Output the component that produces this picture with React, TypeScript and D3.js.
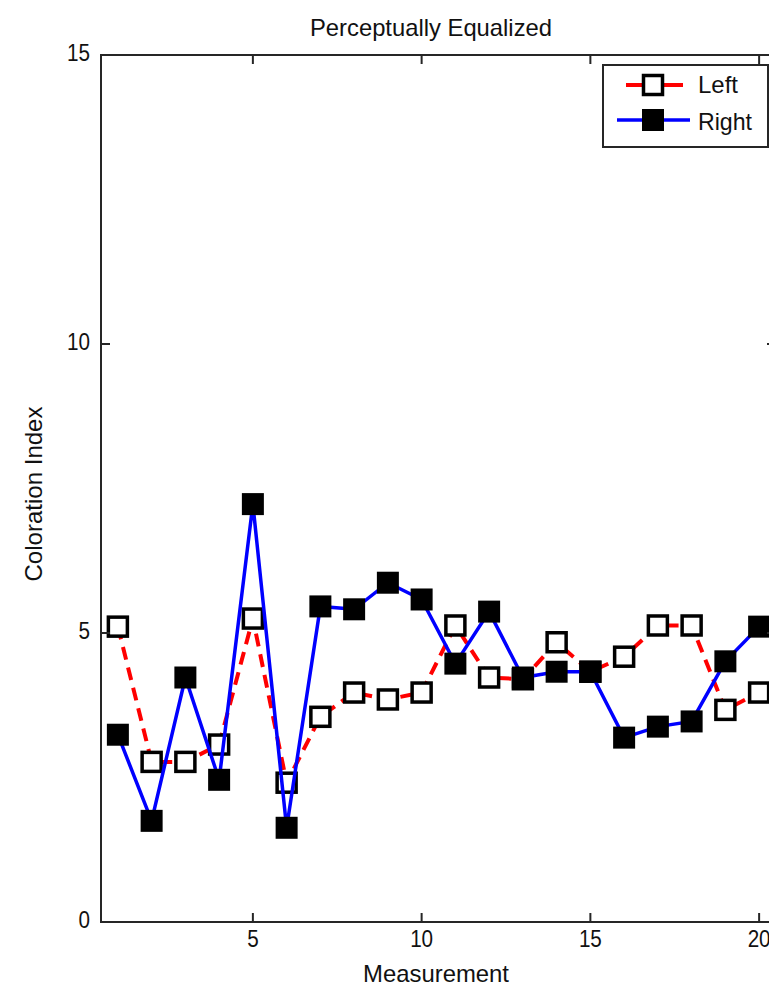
import * as d3 from 'd3';

// measurement index 1..20
const measurements = d3.range(1, 21);
const leftValues = [5.11, 2.77, 2.77, 3.07, 5.25, 2.41, 3.55, 3.97, 3.85, 3.97, 5.13, 4.23, 4.2, 4.84, 4.33, 4.59, 5.13, 5.13, 3.67, 3.97];
const rightValues = [3.24, 1.75, 4.23, 2.46, 7.23, 1.63, 5.46, 5.41, 5.87, 5.58, 4.47, 5.37, 4.23, 4.33, 4.33, 3.19, 3.38, 3.47, 4.51, 5.11];
const xTicks = [5, 10, 15, 20];
const yTicks = [0, 5, 10, 15];
const seriesNames = ['Left', 'Right'];

const W = 769;
const H = 991;
const FONT = '"Liberation Sans Narrow", "Liberation Sans", Arial, sans-serif';
const AXIS = '#262626';

// narrow bitmap-ish font: squeeze glyphs to the widths seen in the picture
function Label({ x, y, w, anchor = 'middle', transform, children }: any) {
  return (
    <text
      x={x}
      y={y}
      transform={transform}
      textAnchor={anchor}
      dominantBaseline="central"
      textLength={w}
      lengthAdjust="spacingAndGlyphs"
      style={{ fontFamily: FONT, fontSize: 24, fill: '#111' }}
    >
      {children}
    </text>
  );
}

export default function App() {
  const margin = { top: 55, right: -7, bottom: 69, left: 101 };
  const x = d3.scaleLinear().domain([0.5, 20.5]).range([margin.left, W - margin.right]);
  const y = d3.scaleLinear().domain([0, 15]).range([H - margin.bottom, margin.top]);
  const x0 = x(0.5), x1 = x(20.5), y0 = y(0), y1 = y(15);
  const tickLen = 9;
  const mk = 22;
  const digitW = 11.5;

  const line = d3
    .line<number>()
    .x((_, i) => x(measurements[i]))
    .y((d) => y(d));

  return (
    <div style={{ position: 'absolute', left: 0, top: 0 }}>
      <svg width={W} height={H} style={{ display: 'block', background: '#fff' }}>
        <rect x={0} y={0} width={W} height={H} fill="#fff" />
        <Label x={431} y={27} w={242}>Perceptually Equalized</Label>

        {/* Left: red dashed, open squares */}
        <path d={line(leftValues) || ''} fill="none" stroke="#ff0000" strokeWidth={4} strokeDasharray="13 8" />
        {leftValues.map((v, i) => (
          <rect
            key={'l' + i}
            x={x(measurements[i]) - mk / 2 + 1.5}
            y={y(v) - mk / 2 + 1.5}
            width={mk - 3}
            height={mk - 3}
            fill="#fff"
            stroke="#000"
            strokeWidth={3.5}
          />
        ))}

        {/* Right: blue solid, filled squares */}
        <path d={line(rightValues) || ''} fill="none" stroke="#0000ff" strokeWidth={3.5} />
        {rightValues.map((v, i) => (
          <rect key={'r' + i} x={x(measurements[i]) - mk / 2} y={y(v) - mk / 2} width={mk} height={mk} fill="#000" />
        ))}

        {/* box + ticks */}
        <rect x={x0} y={y1} width={x1 - x0} height={y0 - y1} fill="none" stroke={AXIS} strokeWidth={2} />
        {xTicks.map((t) => (
          <g key={'xt' + t}>
            <line x1={x(t)} x2={x(t)} y1={y0} y2={y0 - tickLen} stroke={AXIS} strokeWidth={2} />
            <line x1={x(t)} x2={x(t)} y1={y1} y2={y1 + tickLen} stroke={AXIS} strokeWidth={2} />
            <Label x={x(t)} y={y0 + 16} w={String(t).length * digitW}>{t}</Label>
          </g>
        ))}
        {yTicks.map((t) => (
          <g key={'yt' + t}>
            <line x1={x0} x2={x0 + tickLen} y1={y(t)} y2={y(t)} stroke={AXIS} strokeWidth={2} />
            <line x1={x1} x2={x1 - tickLen} y1={y(t)} y2={y(t)} stroke={AXIS} strokeWidth={2} />
            <Label x={x0 - 11} y={y(t) - 3} w={String(t).length * digitW} anchor="end">{t}</Label>
          </g>
        ))}

        <Label x={436} y={973} w={146}>Measurement</Label>
        <Label x={0} y={0} w={175} transform="translate(33,494) rotate(-90)">Coloration Index</Label>

        {/* legend */}
        <rect x={603} y={65} width={165} height={82} fill="#fff" stroke={AXIS} strokeWidth={2} />
        <line x1={626} x2={683} y1={85} y2={85} stroke="#ff0000" strokeWidth={4} />
        <rect x={653 - mk / 2 + 1.5} y={85 - mk / 2 + 1.5} width={mk - 3} height={mk - 3} fill="#fff" stroke="#000" strokeWidth={3.5} />
        <Label x={698} y={84} w={40} anchor="start">{seriesNames[0]}</Label>
        <line x1={617} x2={690} y1={120} y2={120} stroke="#0000ff" strokeWidth={3.5} />
        <rect x={653 - mk / 2} y={120 - mk / 2} width={mk} height={mk} fill="#000" />
        <Label x={698} y={121} w={54} anchor="start">{seriesNames[1]}</Label>
      </svg>
    </div>
  );
}
